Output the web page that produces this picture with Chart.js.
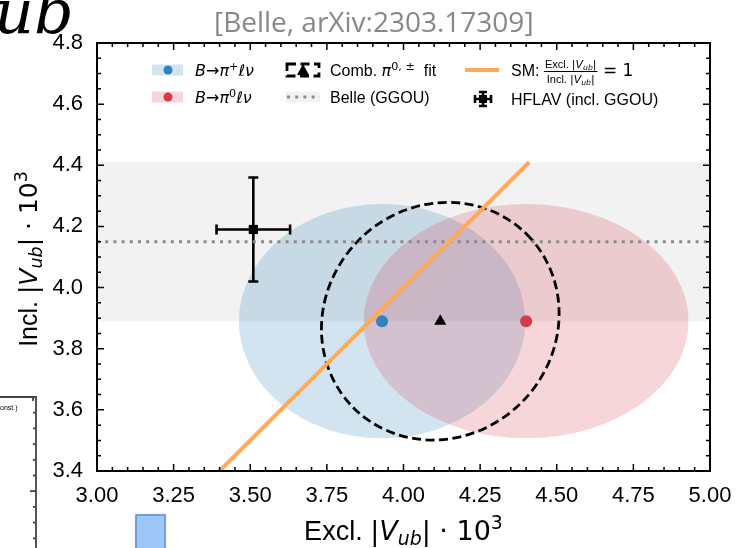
<!DOCTYPE html>
<html>
<head>
<meta charset="utf-8">
<script src="https://cdn.jsdelivr.net/npm/chart.js@4.4.0/dist/chart.umd.min.js"></script>
<style>
    html, body { margin: 0; padding: 0; background: #fff; }
    #wrap { width: 740px; height: 548px; }
</style>
</head>
<body>
<div id="wrap"><canvas id="vubChart" width="740" height="548"></canvas></div>
<script>
// 坐标轴刻度
const xTicks = [3.00, 3.25, 3.50, 3.75, 4.00, 4.25, 4.50, 4.75, 5.00];
const yTicks = [3.4, 3.6, 3.8, 4.0, 4.2, 4.4, 4.6, 4.8];

// 两个衰变道：中心值与 1σ 半轴
const channels = ['B→π⁺ℓν', 'B→π⁰ℓν'];
const exclCentral = [3.93, 4.40];
const inclCentral = [3.89, 3.89];
const exclSigma = [0.467, 0.53];
const inclSigma = [0.383, 0.383];

// 联合拟合 π^{0,±}：中心、半轴（长, 短）、倾角（度）
const combCentral = [4.12, 3.89];
const combSigma = [0.40, 0.375];
const combTilt = [45];

// Belle (GGOU) 内含测量
const belleGGOU = [4.15];
const belleGGOUErr = [0.26];

// HFLAV (incl. GGOU)
const hflavPoint = [3.51, 4.19];
const hflavErr = [0.12, 0.17];

// SM: Excl. = Incl. 线段范围
const smRange = [3.40, 4.41];

// 颜色
const COLORS = {
    blue: 'rgb(49, 130, 189)',
    blueFill: 'rgba(31, 119, 180, 0.2)',
    red: 'rgb(214, 58, 76)',
    redFill: 'rgba(214, 50, 70, 0.2)',
    band: '#f2f2f2',
    dotted: '#8c8c8c',
    orange: '#fdaa5c'
};

const SANS = '"Liberation Sans", Arial, sans-serif';
const MATH = '"DejaVu Sans", sans-serif';

// 富文本：逐段绘制（上下标用偏移）
function fontOf(s) {
    return `${s.it ? 'italic ' : ''}${s.size}px ${s.fam || MATH}`;
}
function richWidth(ctx, segs) {
    let w = 0;
    segs.forEach(s => { ctx.font = fontOf(s); w += ctx.measureText(s.t).width; });
    return w;
}
function drawRich(ctx, segs, x, y, align = 'left') {
    let cx = align === 'center' ? x - richWidth(ctx, segs) / 2 : x;
    ctx.textAlign = 'left';
    ctx.textBaseline = 'alphabetic';
    segs.forEach(s => {
        ctx.font = fontOf(s);
        ctx.fillText(s.t, cx, y + (s.dy || 0));
        cx += ctx.measureText(s.t).width;
    });
    return cx;
}

// |V_ub| 的分段
function vubSegs(size) {
    return [
        { t: '|', size },
        { t: 'V', size, it: true },
        { t: 'ub', size: size * 0.7, it: true, dy: size * 0.2 },
        { t: '|', size }
    ];
}
function axisTitle(word, size) {
    return [
        { t: word + ' ', size, fam: SANS },
        ...vubSegs(size),
        { t: ' · 10', size },
        { t: '3', size: size * 0.7, dy: -size * 0.4 }
    ];
}
function channelSegs(sup, size) {
    return [
        { t: 'B', size, it: true },
        { t: '→', size },
        { t: 'π', size, it: true },
        { t: sup, size: size * 0.7, dy: -size * 0.4 },
        { t: 'ℓν', size, it: true }
    ];
}

const decorPlugin = {
    id: 'vubDecor',

    // 在灰色带之后画椭圆与误差棒
    afterDatasetDraw(chart, args) {
        if (args.index !== 0) return;
        const { ctx, chartArea: a, scales: { x, y } } = chart;
        ctx.save();
        ctx.beginPath();
        ctx.rect(a.left, a.top, a.right - a.left, a.bottom - a.top);
        ctx.clip();

        const fills = [COLORS.blueFill, COLORS.redFill];
        exclCentral.forEach((v, i) => {
            const cx = x.getPixelForValue(v);
            const cy = y.getPixelForValue(inclCentral[i]);
            const rx = x.getPixelForValue(v + exclSigma[i]) - cx;
            const ry = cy - y.getPixelForValue(inclCentral[i] + inclSigma[i]);
            ctx.beginPath();
            ctx.ellipse(cx, cy, rx, ry, 0, 0, Math.PI * 2);
            ctx.fillStyle = fills[i];
            ctx.fill();
        });

        // 联合拟合虚线椭圆
        const ccx = x.getPixelForValue(combCentral[0]);
        const ccy = y.getPixelForValue(combCentral[1]);
        const ca = x.getPixelForValue(combCentral[0] + combSigma[0]) - ccx;
        const cb = x.getPixelForValue(combCentral[0] + combSigma[1]) - ccx;
        ctx.beginPath();
        ctx.ellipse(ccx, ccy, ca, cb, -combTilt[0] * Math.PI / 180, 0, Math.PI * 2);
        ctx.setLineDash([9, 4.5]);
        ctx.lineWidth = 2.8;
        ctx.strokeStyle = '#000';
        ctx.stroke();
        ctx.setLineDash([]);

        // HFLAV 误差棒
        const hx = x.getPixelForValue(hflavPoint[0]);
        const hy = y.getPixelForValue(hflavPoint[1]);
        const x0 = x.getPixelForValue(hflavPoint[0] - hflavErr[0]);
        const x1 = x.getPixelForValue(hflavPoint[0] + hflavErr[0]);
        const y0 = y.getPixelForValue(hflavPoint[1] - hflavErr[1]);
        const y1 = y.getPixelForValue(hflavPoint[1] + hflavErr[1]);
        ctx.lineWidth = 2.6;
        ctx.beginPath();
        ctx.moveTo(x0, hy); ctx.lineTo(x1, hy);
        ctx.moveTo(hx, y0); ctx.lineTo(hx, y1);
        ctx.moveTo(x0, hy - 5); ctx.lineTo(x0, hy + 5);
        ctx.moveTo(x1, hy - 5); ctx.lineTo(x1, hy + 5);
        ctx.moveTo(hx - 5, y0); ctx.lineTo(hx + 5, y0);
        ctx.moveTo(hx - 5, y1); ctx.lineTo(hx + 5, y1);
        ctx.stroke();
        ctx.restore();
    },

    afterDraw(chart) {
        const { ctx, chartArea: a, scales: { x, y } } = chart;
        ctx.save();

        // 边框
        ctx.strokeStyle = '#000';
        ctx.lineWidth = 2;
        ctx.strokeRect(a.left, a.top, a.right - a.left, a.bottom - a.top);

        // 向内刻度（含次刻度）
        ctx.lineWidth = 1.5;
        ctx.beginPath();
        for (let i = 0; i <= 40; i++) {
            const px = x.getPixelForValue(xTicks[0] + i * 0.05);
            const len = i % 5 === 0 ? 7 : 4;
            ctx.moveTo(px, a.bottom); ctx.lineTo(px, a.bottom - len);
            ctx.moveTo(px, a.top); ctx.lineTo(px, a.top + len);
        }
        for (let i = 0; i <= 28; i++) {
            const py = y.getPixelForValue(yTicks[0] + i * 0.05);
            const len = i % 4 === 0 ? 7 : 4;
            ctx.moveTo(a.left, py); ctx.lineTo(a.left + len, py);
            ctx.moveTo(a.right, py); ctx.lineTo(a.right - len, py);
        }
        ctx.stroke();

        // 坐标轴标题
        ctx.fillStyle = '#000';
        drawRich(ctx, axisTitle('Excl.', 27), (a.left + a.right) / 2, 540, 'center');
        ctx.save();
        ctx.translate(37, (a.top + a.bottom) / 2 + 2);
        ctx.rotate(-Math.PI / 2);
        drawRich(ctx, axisTitle('Incl.', 25), 0, 0, 'center');
        ctx.restore();

        this.drawLegend(ctx);
        this.drawOuter(ctx);
        ctx.restore();
    },

    // 图例
    drawLegend(ctx) {
        const r1 = 70, r2 = 97, fs = 16;

        // 第一列：两个衰变道
        [[COLORS.blueFill, COLORS.blue, '+', r1], [COLORS.redFill, COLORS.red, '0', r2]].forEach(([fill, dot, sup, ry]) => {
            ctx.fillStyle = fill;
            ctx.fillRect(152, ry - 5.5, 31, 11);
            ctx.beginPath();
            ctx.arc(168, ry, 4.5, 0, Math.PI * 2);
            ctx.fillStyle = dot;
            ctx.fill();
            ctx.fillStyle = '#000';
            drawRich(ctx, channelSegs(sup, fs), 195, ry + 6);
        });

        // 第二列：联合拟合 + Belle
        ctx.strokeStyle = '#000';
        ctx.lineWidth = 2.8;
        ctx.setLineDash([9, 4.5]);
        ctx.strokeRect(287, r1 - 6, 32, 12);
        ctx.setLineDash([]);
        ctx.beginPath();
        ctx.moveTo(303, r1 - 6); ctx.lineTo(309, r1 + 5); ctx.lineTo(297, r1 + 5); ctx.closePath();
        ctx.fillStyle = '#000';
        ctx.fill();
        drawRich(ctx, [
            { t: 'Comb. ', size: fs, fam: SANS },
            { t: 'π', size: fs, it: true },
            { t: '0, ±', size: fs * 0.7, dy: -fs * 0.4 },
            { t: '  fit', size: fs, fam: SANS }
        ], 330, r1 + 6);

        ctx.fillStyle = COLORS.band;
        ctx.fillRect(286, r2 - 5.5, 34, 11);
        ctx.strokeStyle = COLORS.dotted;
        ctx.lineWidth = 3;
        ctx.setLineDash([3, 5.2]);
        ctx.beginPath();
        ctx.moveTo(287, r2); ctx.lineTo(320, r2);
        ctx.stroke();
        ctx.setLineDash([]);
        ctx.fillStyle = '#000';
        drawRich(ctx, [{ t: 'Belle (GGOU)', size: fs, fam: SANS }], 330, r2 + 6);

        // 第三列：SM 线 + HFLAV
        ctx.strokeStyle = COLORS.orange;
        ctx.lineWidth = 4;
        ctx.beginPath();
        ctx.moveTo(465, r1); ctx.lineTo(499, r1);
        ctx.stroke();
        ctx.fillStyle = '#000';
        let cx = drawRich(ctx, [{ t: 'SM: ', size: fs, fam: SANS }], 511, r1 + 6);
        const num = [{ t: 'Excl. ', size: 11, fam: SANS }, ...vubSegs(11)];
        const den = [{ t: 'Incl. ', size: 11, fam: SANS }, ...vubSegs(11)];
        const fw = Math.max(richWidth(ctx, num), richWidth(ctx, den)) + 2;
        drawRich(ctx, num, cx + fw / 2, r1 - 2, 'center');
        drawRich(ctx, den, cx + fw / 2, r1 + 13, 'center');
        ctx.fillRect(cx, r1 + 1, fw, 1);
        drawRich(ctx, [{ t: ' = 1', size: fs + 1 }], cx + fw, r1 + 6);

        const hy = r2 + 2;
        ctx.strokeStyle = '#000';
        ctx.lineWidth = 2.6;
        ctx.beginPath();
        ctx.moveTo(475, hy); ctx.lineTo(491, hy);
        ctx.moveTo(483, hy - 7); ctx.lineTo(483, hy + 7);
        ctx.moveTo(475, hy - 4); ctx.lineTo(475, hy + 4);
        ctx.moveTo(491, hy - 4); ctx.lineTo(491, hy + 4);
        ctx.moveTo(479, hy - 7); ctx.lineTo(487, hy - 7);
        ctx.moveTo(479, hy + 7); ctx.lineTo(487, hy + 7);
        ctx.stroke();
        ctx.fillRect(479, hy - 4, 8, 8);
        drawRich(ctx, [{ t: 'HFLAV (incl. GGOU)', size: fs, fam: SANS }], 511, hy + 6);
    },

    // 截图外围的残余元素
    drawOuter(ctx) {
        ctx.fillStyle = '#888';
        ctx.font = '28px "Open Sans", sans-serif';
        ctx.textAlign = 'left';
        ctx.fillText('[Belle, arXiv:2303.17309]', 214, 32);

        ctx.fillStyle = '#000';
        ctx.font = 'italic 62px "DejaVu Serif", serif';
        ctx.fillText('ub', -6, 33);

        // 左侧相邻面板的边
        ctx.strokeStyle = '#444';
        ctx.lineWidth = 1.8;
        ctx.beginPath();
        ctx.moveTo(0, 397); ctx.lineTo(36, 397); ctx.lineTo(36, 548);
        for (let i = 1; i < 10; i++) {
            const py = 397 + i * 15.7;
            ctx.moveTo(36, py); ctx.lineTo(i % 6 === 0 ? 30 : 33, py);
        }
        ctx.moveTo(33, 397); ctx.lineTo(33, 401);
        ctx.stroke();
        ctx.fillStyle = '#000';
        ctx.font = '7px ' + SANS;
        ctx.fillText('onst.)', 0, 410);

        // 底部蓝色方块
        ctx.shadowColor = 'rgba(0,0,0,0.25)';
        ctx.shadowBlur = 3;
        ctx.fillStyle = '#9ec6f7';
        ctx.fillRect(136, 515, 29, 40);
        ctx.shadowColor = 'transparent';
        ctx.strokeStyle = '#5b8fd3';
        ctx.lineWidth = 1.5;
        ctx.strokeRect(136, 515, 29, 40);
    }
};

const chartConfig = {
    type: 'scatter',
    data: {
        datasets: [
            {
                type: 'line',
                label: 'Belle band',
                data: [xTicks[0], xTicks[xTicks.length - 1]].map(v => ({ x: v, y: belleGGOU[0] + belleGGOUErr[0] })),
                borderWidth: 0,
                pointRadius: 0,
                fill: { target: { value: belleGGOU[0] - belleGGOUErr[0] } },
                backgroundColor: COLORS.band,
                order: 10
            },
            {
                type: 'line',
                label: 'Belle (GGOU)',
                data: [xTicks[0], xTicks[xTicks.length - 1]].map(v => ({ x: v, y: belleGGOU[0] })),
                borderColor: COLORS.dotted,
                borderWidth: 3,
                borderDash: [3, 5.2],
                pointRadius: 0,
                fill: false,
                order: 8
            },
            {
                type: 'line',
                label: 'SM',
                data: smRange.map(v => ({ x: v, y: v })),
                borderColor: COLORS.orange,
                borderWidth: 4,
                pointRadius: 0,
                fill: false,
                order: 6
            },
            {
                label: 'HFLAV (incl. GGOU)',
                data: [{ x: hflavPoint[0], y: hflavPoint[1] }],
                pointStyle: 'rect',
                pointRadius: 6.5,
                backgroundColor: '#000',
                borderWidth: 0,
                order: 3
            },
            ...channels.map((name, i) => ({
                label: name,
                data: [{ x: exclCentral[i], y: inclCentral[i] }],
                pointRadius: 6,
                backgroundColor: i === 0 ? COLORS.blue : COLORS.red,
                borderWidth: 0,
                order: 2
            })),
            {
                label: 'Comb. fit',
                data: [{ x: combCentral[0], y: combCentral[1] }],
                pointStyle: 'triangle',
                pointRadius: 7,
                backgroundColor: '#000',
                borderWidth: 0,
                order: 1
            }
        ]
    },
    options: {
        responsive: false,
        animation: false,
        devicePixelRatio: 1,
        layout: { padding: { top: 43, right: 30, left: 0, bottom: 0 } },
        plugins: { legend: { display: false }, tooltip: { enabled: false } },
        scales: {
            x: {
                type: 'linear',
                min: xTicks[0],
                max: xTicks[xTicks.length - 1],
                afterBuildTicks: s => { s.ticks = xTicks.map(v => ({ value: v })); },
                afterFit: s => { s.height = 77; s.paddingLeft = 0; s.paddingRight = 0; },
                grid: { display: false, drawTicks: false },
                border: { display: false },
                ticks: {
                    autoSkip: false,
                    maxRotation: 0,
                    padding: 12,
                    color: '#000',
                    font: { family: SANS, size: 22 },
                    callback: v => v.toFixed(2)
                }
            },
            y: {
                type: 'linear',
                min: yTicks[0],
                max: yTicks[yTicks.length - 1],
                afterBuildTicks: s => { s.ticks = yTicks.map(v => ({ value: v })); },
                afterFit: s => { s.width = 97; s.paddingTop = 0; s.paddingBottom = 0; },
                grid: { display: false, drawTicks: false },
                border: { display: false },
                ticks: {
                    autoSkip: false,
                    padding: 14,
                    color: '#000',
                    font: { family: SANS, size: 22 },
                    callback: v => v.toFixed(1)
                }
            }
        }
    },
    plugins: [decorPlugin]
};

new Chart(document.getElementById('vubChart'), chartConfig);
</script>
</body>
</html>
